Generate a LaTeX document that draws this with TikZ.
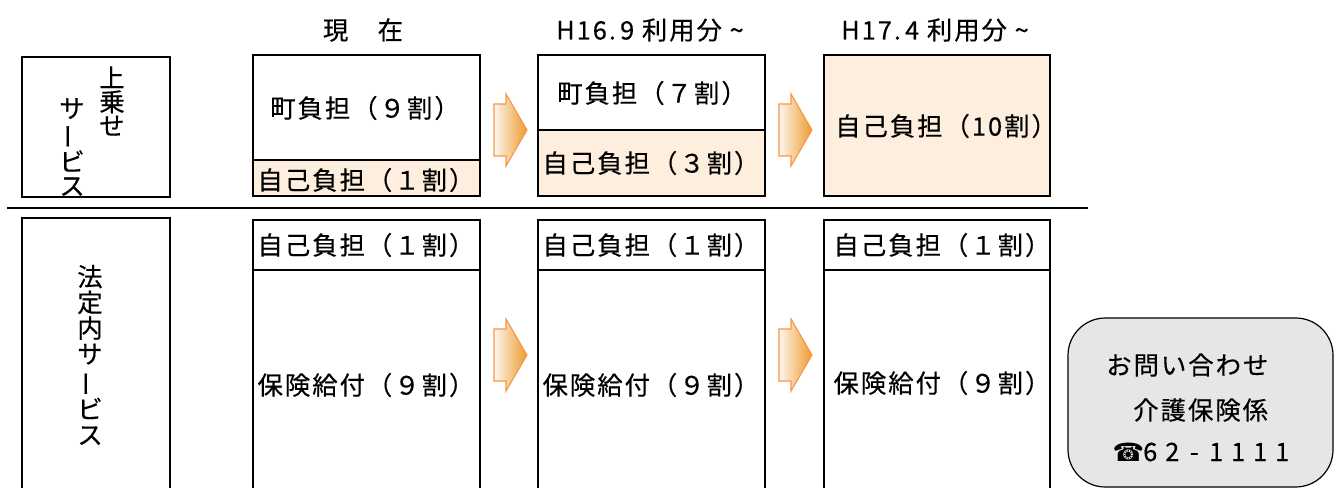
\documentclass[tikz,border=0pt]{standalone}
\usepackage{fontspec}
\usepackage{graphicx}
\setmainfont{Noto Sans CJK JP}[LetterSpace=8, FakeBold=0.4]
\newfontfamily\symfont{DejaVu Sans}
\usetikzlibrary{shadings}
\definecolor{selfpay}{HTML}{FDEEDD}
\definecolor{arrowline}{HTML}{F79646}
\definecolor{arrowdark}{HTML}{EE9A2E}
\definecolor{arrowlight}{HTML}{FEF6EE}
\definecolor{contactfill}{HTML}{E6E6E6}
\newcommand{\vbar}{\rotatebox[origin=c]{90}{ー}}
\newcommand{\dg}[1]{\makebox[16.5pt][c]{#1}}
\tikzset{
  lbl/.style={inner sep=0pt, font=\fontsize{19pt}{22pt}\selectfont, text=black},
  vlblA/.style={inner sep=0pt, align=center, font=\fontsize{19pt}{18pt}\selectfont, text=black},
  vlblB/.style={inner sep=0pt, align=center, font=\fontsize{19pt}{19.3pt}\selectfont, text=black},
  boxline/.style={draw=black, line width=0.9pt},
  orangearrow/.style={draw=arrowline, line width=0.8pt, left color=arrowlight, right color=arrowdark, shading angle=90},
}
\begin{document}
\begin{tikzpicture}[x=0.75pt,y=-0.75pt]
\useasboundingbox (0,0) rectangle (1334,488);
% titles
\node[lbl] (t1) at (363,30) {現　在};
\node[lbl] (t2) at (650,30) {H16.\,9 利用分 \textasciitilde};
\node[lbl] (t3) at (935,30) {H17.\,4 利用分 \textasciitilde};
% left boxes
\draw[boxline] (22,57) rectangle (170,197);
\node[vlblA] (jo) at (112,101) {上\\乗\\せ};
\node[vlblA] (sv) at (72,147) {サ\\\vbar\\ビ\\ス};
\draw[boxline] (22,218) rectangle (170,500);
\node[vlblB] (hotei) at (90,355) {法\\定\\内\\サ\\\vbar\\ビ\\ス};
% separator
\coordinate (sepL) at (7,208);
\coordinate (sepR) at (1088,208);
\draw[line width=1pt] (sepL) -- (sepR);
% upper column 1
\fill[selfpay] (253,160) rectangle (480,196);
\draw[boxline] (253,55) rectangle (480,196);
\draw[boxline] (253,160) -- (480,160);
\node[lbl] (u1a) at (365,108) {町負担（９割）};
\node[lbl] (u1b) at (366,180) {自己負担（１割）};
% upper column 2
\fill[selfpay] (538,130) rectangle (765,196);
\draw[boxline] (538,55) rectangle (765,196);
\draw[boxline] (538,130) -- (765,130);
\node[lbl] (u2a) at (652,93) {町負担（７割）};
\node[lbl] (u2b) at (651,163) {自己負担（３割）};
% upper column 3
\fill[selfpay] (824,55) rectangle (1050,196);
\draw[boxline] (824,55) rectangle (1050,196);
\node[lbl] (u3) at (946,126) {自己負担（10割）};
% lower columns
\draw[boxline] (253,220) rectangle (480,500);
\draw[boxline] (253,270) -- (480,270);
\node[lbl] (l1a) at (366,245) {自己負担（１割）};
\node[lbl] (l1b) at (366,385) {保険給付（９割）};
\draw[boxline] (538,220) rectangle (765,500);
\draw[boxline] (538,270) -- (765,270);
\node[lbl] (l2a) at (651,245) {自己負担（１割）};
\node[lbl] (l2b) at (651,385) {保険給付（９割）};
\draw[boxline] (824,220) rectangle (1050,500);
\draw[boxline] (824,270) -- (1050,270);
\node[lbl] (l3a) at (942,245) {自己負担（１割）};
\node[lbl] (l3b) at (942,383) {保険給付（９割）};
% arrows
\foreach \ax/\ay in {494/130, 779/130, 494/355, 779/355}{
  \path[orangearrow] (\ax,\ay-26) -- (\ax+12,\ay-26) -- (\ax+12,\ay-36) -- (\ax+33,\ay) -- (\ax+12,\ay+36) -- (\ax+12,\ay+26) -- (\ax,\ay+26) -- cycle;
}
% contact box
\draw[fill=contactfill, draw=black, line width=0.9pt, rounded corners=28] (1068,318) rectangle (1333,487);
\node[lbl, anchor=west] (c1) at (1106,365) {お問い合わせ};
\node[lbl, anchor=west] (c2) at (1133,410) {介護保険係};
\node[lbl, anchor=west] (c3) at (1117,452) {\dg{\symfont ☎}\dg{6}\dg{2}\dg{-}\dg{1}\dg{1}\dg{1}\dg{1}};
\end{tikzpicture}
\end{document}
